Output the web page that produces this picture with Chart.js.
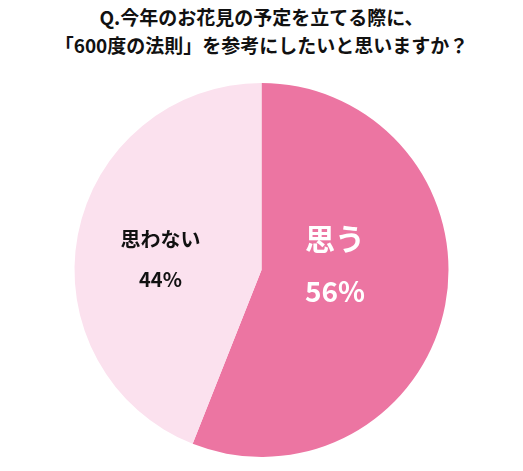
<!DOCTYPE html>
<html><head><meta charset="utf-8">
<script src="https://cdn.jsdelivr.net/npm/chart.js@4"></script>
<style>
body{margin:0;background:#fff;}
#wrap{position:relative;width:523px;height:471px;}
#title{position:absolute;left:0;top:3px;width:523px;text-align:center;font:bold 19px "Noto Sans CJK JP";line-height:28px;color:#111;}
canvas{position:absolute;left:0;top:0;}
</style></head><body>
<div id="wrap">
<div id="title">Q.今年のお花見の予定を立てる際に、<br>「600度の法則」を参考にしたいと思いますか？</div>
<canvas id="c" width="523" height="471"></canvas>
</div>
<script>
const categories = ["思う", "思わない"];
const values = [56, 44];
const colors = ["#EC75A2", "#FBE1EE"];
const labelColors = ["#ffffff", "#111111"];
const labelFonts = [[30, 28], [20, 20]];
const labelDist = [0.4, 0.55];
const labelDy = [-19, 9];
const labelGap = [26, 20];

const labelPlugin = {
  id: 'lbl',
  afterDraw(chart) {
    const ctx = chart.ctx;
    const meta = chart.getDatasetMeta(0);
    meta.data.forEach((arc, i) => {
      const mid = (arc.startAngle + arc.endAngle) / 2;
      const r = arc.outerRadius * labelDist[i];
      const x = arc.x + Math.cos(mid) * r;
      const y = arc.y + Math.sin(mid) * r + labelDy[i];
      ctx.save();
      ctx.fillStyle = labelColors[i];
      ctx.textAlign = 'center';
      ctx.textBaseline = 'middle';
      ctx.font = 'bold ' + labelFonts[i][0] + 'px "Noto Sans CJK JP"';
      ctx.fillText(categories[i], x, y - labelGap[i]);
      ctx.font = 'bold ' + labelFonts[i][1] + 'px "Noto Sans CJK JP"';
      ctx.fillText(values[i] + '%', x, y + labelGap[i]);
      ctx.restore();
    });
  }
};

new Chart(document.getElementById('c'), {
  type: 'pie',
  data: { labels: categories, datasets: [{ data: values, backgroundColor: colors, borderWidth: 0 }] },
  options: {
    responsive: false, animation: false,
    layout: { padding: { top: 83, bottom: 14 } },
    plugins: { legend: { display: false }, tooltip: { enabled: false } }
  },
  plugins: [labelPlugin]
});
</script>
</body></html>
